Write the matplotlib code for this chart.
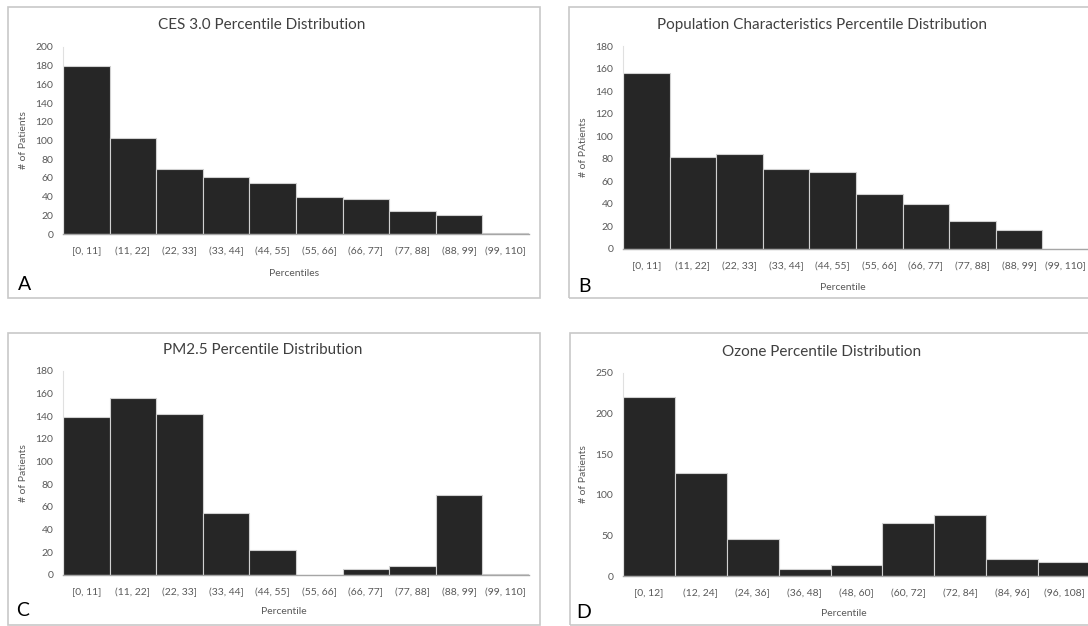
import matplotlib
matplotlib.use('Agg')
import matplotlib.pyplot as plt
from matplotlib.patches import Rectangle

W, H = 1088, 626

# data
ces_bins = ['[0, 11]', '(11, 22]', '(22, 33]', '(33, 44]', '(44, 55]',
            '(55, 66]', '(66, 77]', '(77, 88]', '(88, 99]', '(99, 110]']
ces_counts = [180, 103, 70, 61, 55, 40, 37, 25, 20, 1]

pop_bins = ces_bins
pop_counts = [156, 82, 84, 71, 68, 49, 40, 25, 17, 0]

pm25_bins = ces_bins
pm25_counts = [139, 156, 142, 55, 22, 0, 5, 8, 71, 1]

ozone_bins = ['[0, 12]', '(12, 24]', '(24, 36]', '(36, 48]', '(48, 60]',
              '(60, 72]', '(72, 84]', '(84, 96]', '(96, 108]']
ozone_counts = [221, 127, 46, 9, 14, 65, 75, 21, 17]

BAR = '#262626'
GREY_TXT = '#595959'
TITLE_TXT = '#404040'
FONT = 'Lato'

plt.rcParams['font.family'] = [FONT, 'DejaVu Sans']

fig = plt.figure(figsize=(W / 100, H / 100), dpi=100)


def fx(x):
    return x / W


def fy(y):
    return 1 - y / H


def border(x0, y0, x1, y1):
    fig.patches.append(Rectangle((fx(x0), fy(y1)), fx(x1) - fx(x0), fy(y0) - fy(y1),
                                 transform=fig.transFigure, fill=False,
                                 edgecolor='#c8c8c8', lw=1.2))


def panel(box, cats, counts, ymax, ystep, title, title_xy, xlabel, xlabel_xy,
          ylabel, ylabel_x, letter, letter_xy):
    left, top, right, bottom = box
    ax = fig.add_axes([fx(left), fy(bottom), fx(right) - fx(left), fy(top) - fy(bottom)])
    x = list(range(len(cats)))
    ax.bar(x, counts, width=1.0, color=BAR, edgecolor='#d0d0d0', linewidth=0.8)
    ax.set_xlim(-0.5, len(cats) - 0.5)
    ax.set_ylim(0, ymax)
    ax.set_yticks(range(0, ymax + 1, ystep))
    ax.set_xticks(x)
    ax.set_xticklabels(cats)
    ax.tick_params(length=0, labelsize=7.5, labelcolor=GREY_TXT)
    ax.tick_params(axis='x', pad=9)
    ax.tick_params(axis='y', pad=7)
    for s in ['top', 'right']:
        ax.spines[s].set_visible(False)
    ax.spines['left'].set_color('#e0e0e0')
    ax.spines['left'].set_linewidth(0.8)
    ax.spines['bottom'].set_color('#a6a6a6')
    ax.spines['bottom'].set_linewidth(1.0)
    ax.set_axisbelow(False)

    fig.text(fx(title_xy[0]), fy(title_xy[1]), title, ha='center', va='center',
             fontsize=11, color=TITLE_TXT)
    fig.text(fx(xlabel_xy[0]), fy(xlabel_xy[1]), xlabel, ha='center', va='center',
             fontsize=7.5, color=GREY_TXT)
    fig.text(fx(ylabel_x), fy((top + bottom) / 2), ylabel, ha='center', va='center',
             rotation=90, fontsize=7.5, color=GREY_TXT)
    fig.text(fx(letter_xy[0]), fy(letter_xy[1]), letter, ha='left', va='center',
             fontsize=14, color='black')
    return ax


border(8, 7, 540, 298)
border(569, 7, 1100, 298)
border(8, 333, 540, 625)
border(570, 333, 1100, 625)

panel((63, 47, 529, 234), ces_bins, ces_counts, 200, 20,
      'CES 3.0 Percentile Distribution', (262, 25), 'Percentiles', (294, 273),
      '# of Patients', 23, 'A', (18, 285))
panel((623, 46, 1089, 249), pop_bins, pop_counts, 180, 20,
      'Population Characteristics Percentile Distribution', (822, 25),
      'Percentile', (843, 287), '# of PAtients', 583, 'B', (578, 286))
panel((63, 371, 529, 575), pm25_bins, pm25_counts, 180, 20,
      'PM2.5 Percentile Distribution', (263, 350), 'Percentile', (284, 612),
      '# of Patients', 23, 'C', (16, 611))
panel((623, 373, 1090, 576), ozone_bins, ozone_counts, 250, 50,
      'Ozone Percentile Distribution', (822, 352), 'Percentile', (844, 613),
      '# of Patients', 583, 'D', (576, 612))

fig.savefig('out.png', dpi=100)
